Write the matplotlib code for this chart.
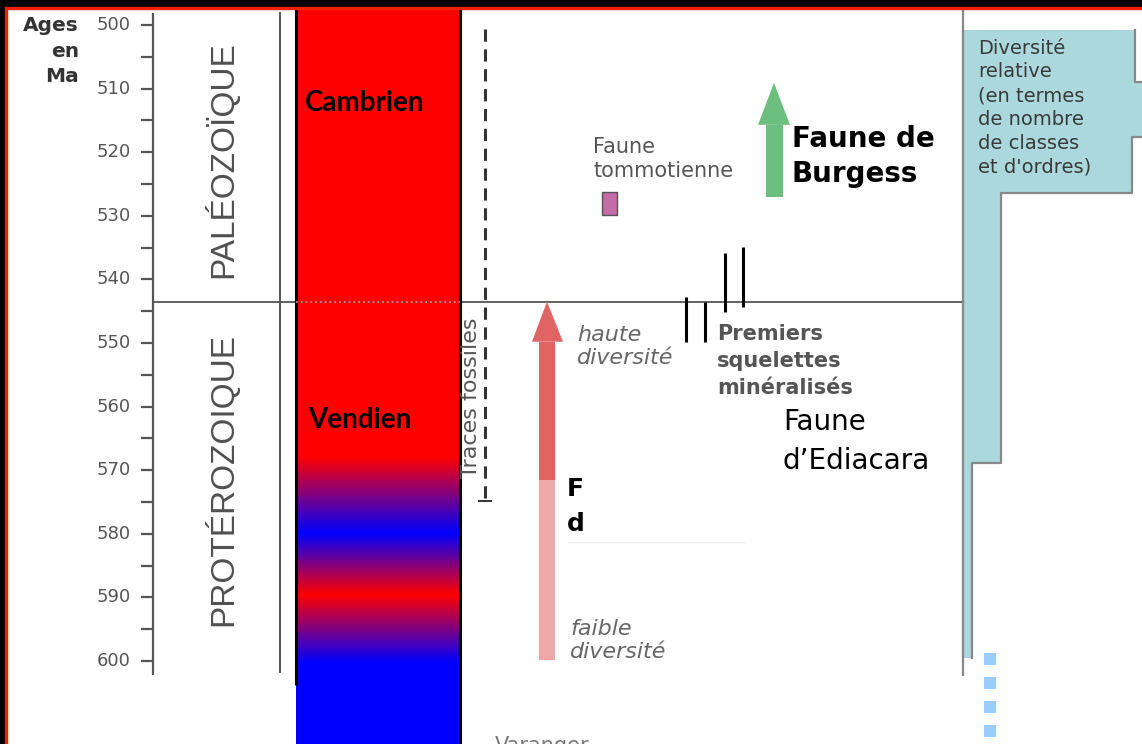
import numpy as np
import matplotlib.pyplot as plt
from matplotlib.patches import Rectangle

# --- data (ages in Ma) ---
tick_major = [500, 510, 520, 530, 540, 550, 560, 570, 580, 590, 600]
tick_minor = [505, 515, 525, 535, 545, 555, 565, 575, 585, 595]
boundary_age = 543.5

# red / blue stripes of the Vendien column (0 = red, 1 = blue)
stripe_ages = [567.9, 579.9, 589.6, 600.3]
stripe_mix = [0, 1, 0, 1]

# relative diversity (step curve)
div_bounds = [500.8, 509.0, 517.6, 526.4, 568.9, 599.5]
div_width = [172, 185, 169, 38, 9]

# first mineralised skeletons: (x position, top age, bottom age)
skel_x = [686, 705, 725, 743]
skel_top = [542.8, 543.6, 535.9, 534.9]
skel_bot = [549.8, 549.8, 545.1, 544.3]

traces_span = (500.6, 574.8)
ediacara_span = (543.5, 549.8, 571.5, 599.8)   # tip, head base, colour change, base
burgess_span = (509.1, 515.7, 527.0)           # tip, head base, base
tommot_span = (526.3, 529.9)
dots_ages = [599.7, 603.5, 607.3, 611.0]

W, H = 1142, 744
s = 6.36  # px per Ma
age_top = 500 - 25 / s
age_bot = 500 + (H - 25) / s

fig = plt.figure(figsize=(W / 100, H / 100), dpi=100)
ax = fig.add_axes([0, 0, 1, 1])
fig.patch.set_facecolor('white')

grey = '#555555'
dv = 'DejaVu Sans'

# colour column
ages = np.linspace(age_top, age_bot, 900)
b = np.interp(ages, stripe_ages, stripe_mix)
img = np.zeros((len(ages), 1, 3))
img[:, 0, 0] = 1 - b
img[:, 0, 2] = b
ax.imshow(img, extent=(296, 460, age_bot, age_top), origin='upper', aspect='auto', zorder=1)
ax.vlines(296, age_top, 603.8, color='black', lw=2.2, zorder=3)
ax.vlines(460, age_top, age_bot, color='black', lw=2.2, zorder=3)
ax.text(305, 512.3, 'Cambrien', fontsize=20, fontweight='bold', family='Lato', va='center', zorder=4)
ax.text(308, 562.1, 'Vendien', fontsize=20, fontweight='bold', family='Lato', va='center', zorder=4)

# age axis
ax.vlines(153, 498.1, 602.2, color=grey, lw=1.6)
ax.hlines(tick_major + tick_minor, 141, 153, color=grey, lw=1.6)
for t in tick_major:
    ax.text(131, t, str(t), ha='right', va='center', fontsize=13, color=grey, family=dv)
ax.text(79, 504.1, 'Ages\nen\nMa', ha='right', va='center', fontsize=14.5, fontweight='bold',
        color='#333333', linespacing=1.45, family=dv)

# eras
ax.vlines(280, 498.0, 601.9, color=grey, lw=1.4)
ax.text(222, 521.2, 'PAL\u00c9OZO\u00cfQUE', rotation=90, ha='center', va='center', fontsize=24,
        color='#505050', family='Liberation Sans')
ax.text(222, 571.5, 'PROT\u00c9ROZOIQUE', rotation=90, ha='center', va='center', fontsize=24,
        color='#505050', family='Liberation Sans')

# boundary line
ax.hlines(boundary_age, 153, 296, color=grey, lw=1.3, zorder=2)
ax.hlines(boundary_age, 296, 460, color='#999999', lw=1.3, linestyles=':', zorder=3)
ax.hlines(boundary_age, 460, 963, color=grey, lw=1.3, zorder=2)

# trace fossils
ax.vlines(485, traces_span[0], traces_span[1], color='#333333', lw=2.2, linestyles=(0, (4, 2.5)))
ax.hlines(traces_span[1], 478, 492, color='#333333', lw=1.4)
ax.text(471, 558.6, 'Traces fossiles', rotation=90, ha='center', va='center', fontsize=16,
        color=grey, family=dv)

# Ediacara arrow
tip, hb, mid, base = ediacara_span
ax.add_patch(Rectangle((539, mid), 16, base - mid, color='#eea8a8', lw=0, zorder=2))
ax.add_patch(Rectangle((539, hb), 16, mid - hb, color='#e06464', lw=0, zorder=2))
ax.fill([532, 563, 547], [hb, hb, tip], color='#e06464', lw=0, zorder=2)
ax.text(577, 550.55, 'haute\ndiversit\u00e9', fontsize=16, style='italic', color='#666666',
        va='center', linespacing=1.15, family=dv)
ax.text(570, 596.8, 'faible\ndiversit\u00e9', fontsize=16, style='italic', color='#666666',
        va='center', linespacing=1.15, family=dv)
ax.text(567, 575.7, 'F\nd', fontsize=18, fontweight='bold', va='center', linespacing=1.6,
        family=dv)
ax.add_patch(Rectangle((560, 599.6), 160, 8, color='white', lw=0, zorder=5))
ax.hlines(581.3, 568, 745, color='#eeeeee', lw=1)
ax.text(495, 613.4, 'Varanger', fontsize=15, color='#777777', va='center', family=dv)

# first skeletons
ax.vlines(skel_x, skel_top, skel_bot, color='black', lw=2.2)
ax.text(717, 552.8, 'Premiers\nsquelettes\nmin\u00e9ralis\u00e9s', fontsize=15, fontweight='bold',
        color=grey, va='center', linespacing=1.42, family=dv)

# Ediacara label
ax.text(783, 565.5, 'Faune\nd\u2019Ediacara', fontsize=20, color='black', va='center',
        linespacing=1.5, family=dv)

# Tommotian fauna
ax.text(593, 521.1, 'Faune\ntommotienne', fontsize=15, color=grey, va='center',
        linespacing=1.25, family=dv)
ax.add_patch(Rectangle((602, tommot_span[0]), 15, tommot_span[1] - tommot_span[0],
                       facecolor='#c46ba8', edgecolor='#555555', lw=1))

# Burgess arrow
btip, bhb, bbase = burgess_span
ax.add_patch(Rectangle((766, bhb), 17, bbase - bhb, color='#6cbf7e', lw=0))
ax.fill([758, 790, 774], [bhb, bhb, btip], color='#6cbf7e', lw=0)
ax.text(792, 520.7, 'Faune de\nBurgess', fontsize=20, fontweight='bold', va='center',
        linespacing=1.3, family=dv)

# relative diversity
x0 = 963
fc = '#abd8dc'
ec = '#888888'
for i, w in enumerate(div_width):
    ax.fill_betweenx([div_bounds[i], div_bounds[i + 1]], x0, x0 + w, color=fc, lw=0)
px_, py_ = [], []
for i, w in enumerate(div_width):
    px_ += [x0 + w, x0 + w]
    py_ += [div_bounds[i], div_bounds[i + 1]]
ax.plot(px_, py_, color=ec, lw=1.6)
ax.vlines(x0, 497.6, 602.3, color=ec, lw=1.6)
ax.text(978, 513.0, 'Diversit\u00e9\nrelative\n(en termes\nde nombre\nde classes\net d\'ordres)',
        fontsize=14, color='#3a3a3a', va='center', linespacing=1.32, family=dv)
ax.scatter([990] * len(dots_ages), dots_ages, marker='s', s=72, color='#99ccff', lw=0)

ax.set_xlim(0, W)
ax.set_ylim(age_bot, age_top)
ax.axis('off')

# outer frame (black band with red rim)
fig.add_artist(Rectangle((0, 1 - 7 / H), 1, 7 / H, transform=fig.transFigure, color='black'))
fig.add_artist(Rectangle((0, 1 - 9 / H), 1, 2 / H, transform=fig.transFigure, color='#ee2200'))
fig.add_artist(Rectangle((0, 0), 5 / W, 1, transform=fig.transFigure, color='black'))
fig.add_artist(Rectangle((5 / W, 0), 2 / W, 1 - 7 / H, transform=fig.transFigure, color='#ee2200'))

fig.savefig('out.png', dpi=100)
